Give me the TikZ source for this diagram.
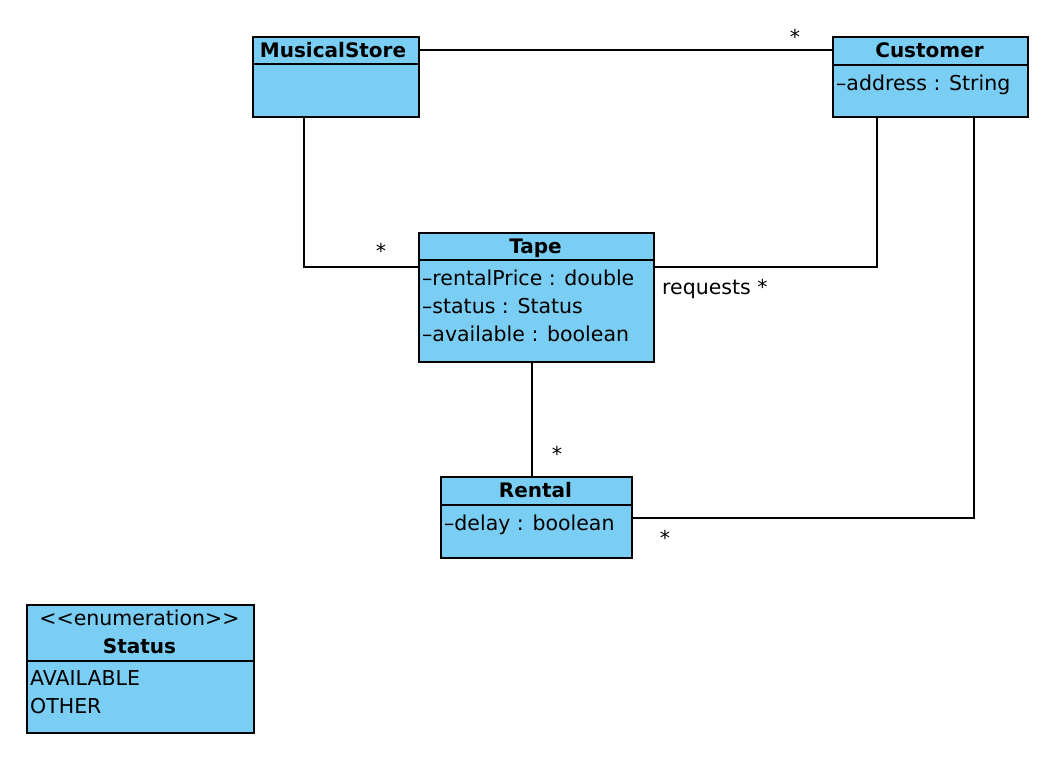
\documentclass[tikz,border=0pt]{standalone}
\usepackage{fontspec}
\setmainfont{DejaVu Sans}
\usetikzlibrary{calc}
\definecolor{classfill}{HTML}{7ACDF3}
\tikzset{
  cls/.style={draw=black, fill=classfill, line width=1.6pt, rectangle, inner sep=0pt, anchor=north west},
  sep/.style={draw=black, line width=1.4pt},
  assoc/.style={draw=black, line width=1.4pt},
  title/.style={font=\fontsize{20}{24}\selectfont\bfseries, anchor=base, inner sep=0pt},
  attr/.style={font=\fontsize{20.5}{24}\selectfont, anchor=base west, inner sep=0pt},
  mult/.style={font=\fontsize{20.5}{24}\selectfont, anchor=base, inner sep=0pt},
}
\begin{document}
\begin{tikzpicture}[x=1pt,y=-1pt]
\useasboundingbox (0,0) rectangle (1064,758);

% class boxes
\node[cls, minimum width=166pt, minimum height=80pt] (ms) at (252,36) {};
\node[cls, minimum width=195pt, minimum height=80pt] (cu) at (832,36) {};
\node[cls, minimum width=235pt, minimum height=129pt] (tape) at (418,232) {};
\node[cls, minimum width=191pt, minimum height=81pt] (rental) at (440,476) {};
\node[cls, minimum width=227pt, minimum height=128pt] (status) at (26,604) {};

% compartment separators
\draw[sep] ($(ms.north west)+(0,28)$) -- ($(ms.north east)+(0,28)$);
\draw[sep] ($(cu.north west)+(0,29)$) -- ($(cu.north east)+(0,29)$);
\draw[sep] ($(tape.north west)+(0,28)$) -- ($(tape.north east)+(0,28)$);
\draw[sep] ($(rental.north west)+(0,29)$) -- ($(rental.north east)+(0,29)$);
\draw[sep] ($(status.north west)+(0,57)$) -- ($(status.north east)+(0,57)$);

% class names and attributes
\node[title] (msname) at (333,57) {MusicalStore};
\node[title] (cuname) at (929.5,57) {Customer};
\node[attr] (cuaddr) at (836,90) {–address : String};
\node[title] (tapename) at (535.5,253) {Tape};
\node[attr] (tprice) at (422,285) {–rentalPrice : double};
\node[attr] (tstatus) at (422,313) {–status : Status};
\node[attr] (tavail) at (422,341) {–available : boolean};
\node[title] (rentalname) at (535.5,497) {Rental};
\node[attr] (rdelay) at (444,530) {–delay : boolean};
\node[mult] (stereo) at (139.5,625) {<{}<enumeration>{}>};
\node[title] (statusname) at (139.5,653) {Status};
\node[attr] (vavail) at (30,685) {AVAILABLE};
\node[attr] (vother) at (30,713) {OTHER};

% associations
\draw[assoc] ($(ms.north east)+(0,14)$) -- ($(cu.north west)+(0,14)$);
\draw[assoc] ($(ms.south west)+(52,0)$) |- ($(tape.north west)+(0,35)$);
\draw[assoc] ($(cu.south west)+(45,0)$) |- ($(tape.north east)+(0,35)$);
\draw[assoc] ($(tape.south west)+(114,0)$) -- ($(rental.north west)+(92,0)$);
\draw[assoc] ($(cu.south west)+(142,0)$) |- ($(rental.north east)+(0,42)$);

% multiplicities and role names
\node[mult] (m1) at (795,44) {*};
\node[mult] (m2) at (381,258) {*};
\node[attr] (req) at (662,294) {requests *};
\node[mult] (m3) at (557,461) {*};
\node[mult] (m4) at (665,545) {*};
\end{tikzpicture}
\end{document}
